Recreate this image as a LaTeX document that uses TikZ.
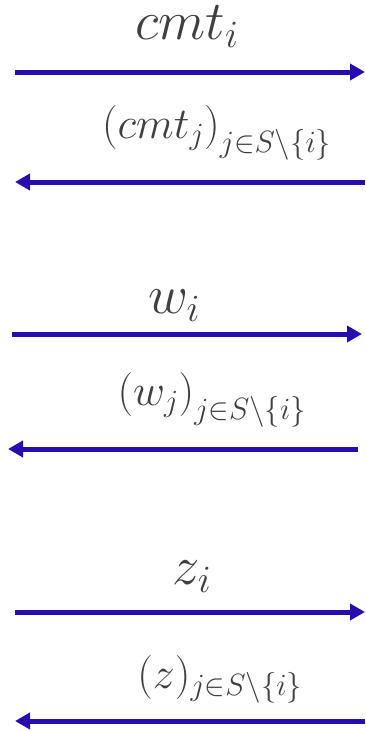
\RequirePackage{fix-cm}
\documentclass[tikz,border=0pt]{standalone}
\usepackage{amsmath, amssymb}
\usepackage{xcolor}
\usepackage{tikz}
\usetikzlibrary{arrows.meta, positioning}

\definecolor{msgblue}{RGB}{40,12,176}
\definecolor{lblgray}{RGB}{64,64,64}

\begin{document}
\begin{tikzpicture}[x=1pt, y=-1pt,
    msg/.style={draw=msgblue, line width=5pt,
                -{Triangle[length=15pt, width=16pt]}},
    biglbl/.style={text=lblgray, anchor=base, inner sep=0pt,
                   font=\fontsize{55}{62}\selectfont},
    sublbl/.style={text=lblgray, anchor=base, inner sep=0pt,
                   font=\fontsize{44}{52}\selectfont}]
  \useasboundingbox (0,0) rectangle (365,731);

  % commitments
  \coordinate (cL1) at (15,72);   \coordinate (cR1) at (365,72);
  \coordinate (cL2) at (15,182);  \coordinate (cR2) at (365,182);
  \node[biglbl] (cmtI) at (187,39) {$cmt_i$};
  \node[sublbl] (cmtJ) at (217,138) {$\left(cmt_j\right)_{j\in S\backslash\{i\}}$};
  \draw[msg] (cL1) -- (cR1);
  \draw[msg] (cR2) -- (cL2);

  % w values
  \coordinate (wL1) at (12,334);  \coordinate (wR1) at (362,334);
  \coordinate (wL2) at (8,449);   \coordinate (wR2) at (358,449);
  \node[biglbl] (wI) at (174,313) {$w_i$};
  \node[sublbl] (wJ) at (212,405) {$\left(w_j\right)_{j\in S\backslash\{i\}}$};
  \draw[msg] (wL1) -- (wR1);
  \draw[msg] (wR2) -- (wL2);

  % z values
  \coordinate (zL1) at (15,612);  \coordinate (zR1) at (365,612);
  \coordinate (zL2) at (15,721);  \coordinate (zR2) at (365,721);
  \node[biglbl] (zI) at (192,584) {$z_i$};
  \node[sublbl] (zJ) at (220,688) {$(z)_{j\in S\backslash\{i\}}$};
  \draw[msg] (zL1) -- (zR1);
  \draw[msg] (zR2) -- (zL2);
\end{tikzpicture}
\end{document}
